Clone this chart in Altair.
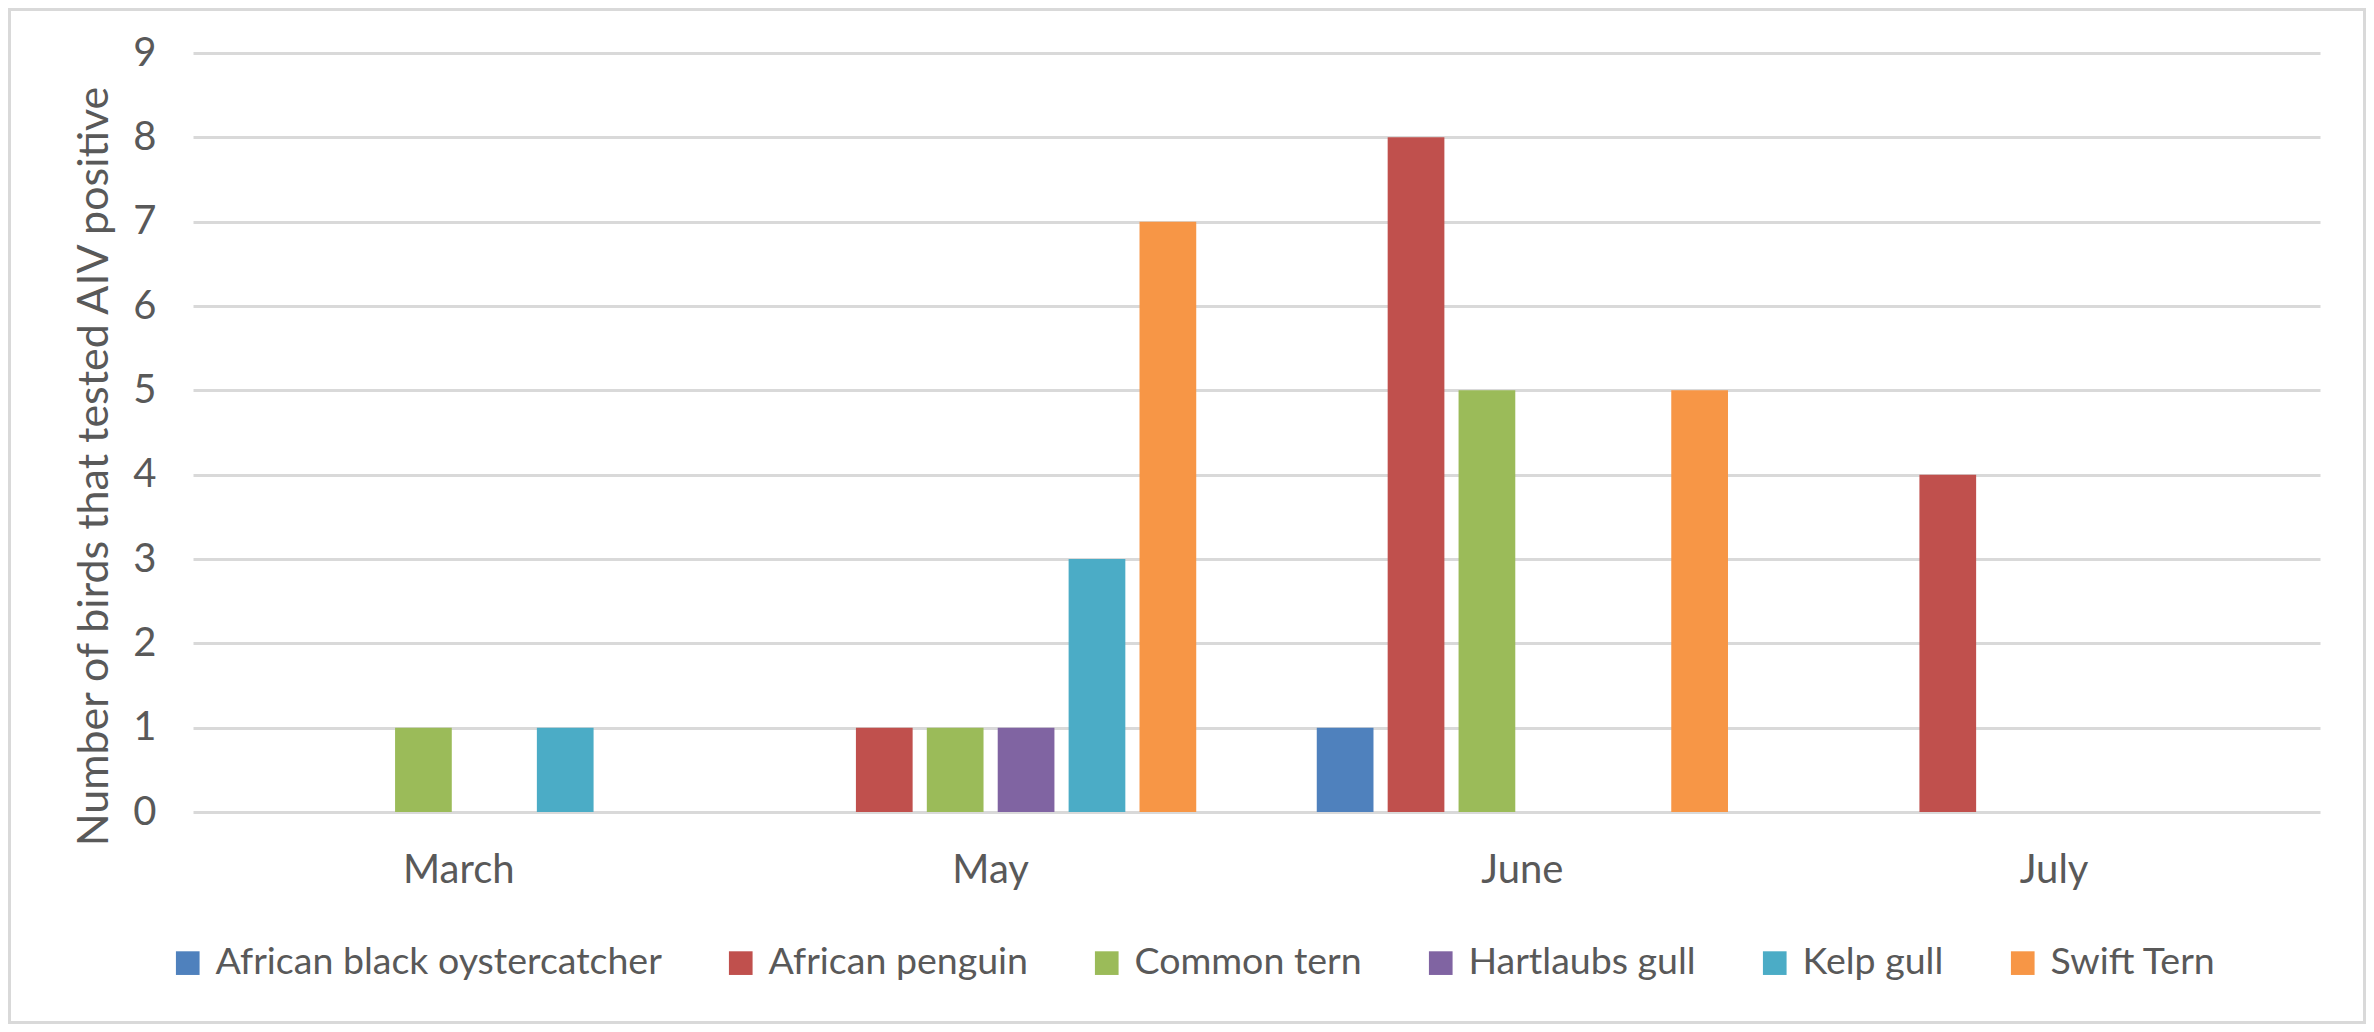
import altair as alt
import pandas as pd

# ---- data ----
months = ["March", "May", "June", "July"]
species = [
    "African black oystercatcher",
    "African penguin",
    "Common tern",
    "Hartlaubs gull",
    "Kelp gull",
    "Swift Tern",
]
oystercatcher = [0, 0, 1, 0]
penguin = [0, 1, 8, 4]
common_tern = [1, 1, 5, 0]
hartlaubs_gull = [0, 1, 0, 0]
kelp_gull = [1, 3, 0, 0]
swift_tern = [0, 7, 5, 0]
y_ticks = [0, 1, 2, 3, 4, 5, 6, 7, 8, 9]
colors = ["#4F81BD", "#C0504D", "#9BBB59", "#8064A2", "#4BACC6", "#F79646"]

series = [oystercatcher, penguin, common_tern, hartlaubs_gull, kelp_gull, swift_tern]
rows = []
for sp, vals in zip(species, series):
    for m, v in zip(months, vals):
        rows.append({"Month": m, "Species": sp, "Count": v})
df = pd.DataFrame(rows)

FONT = "Lato"
TXT = "#595959"
GRID = "#D9D9D9"

W, H = 2127, 759
PAD = {"left": 185, "top": 45, "right": 46, "bottom": 212}

bars = alt.Chart(df).mark_bar().encode(
    x=alt.X(
        "Month:N",
        sort=months,
        scale=alt.Scale(paddingInner=0.2, paddingOuter=0.1),
        axis=alt.Axis(
            title=None,
            labelAngle=0,
            labelFont=FONT,
            labelFontSize=40,
            labelColor=TXT,
            labelBaseline="alphabetic",
            labelPadding=70,
            ticks=False,
            tickSize=0,
            domain=False,
            grid=False,
        ),
    ),
    xOffset=alt.XOffset(
        "Species:N",
        sort=species,
        scale=alt.Scale(paddingInner=0.2, paddingOuter=0.1),
    ),
    y=alt.Y(
        "Count:Q",
        scale=alt.Scale(domain=[0, 9], nice=False),
        axis=alt.Axis(
            title="Number of birds that tested AIV positive",
            values=y_ticks,
            labelFont=FONT,
            labelFontSize=40,
            labelColor=TXT,
            labelPadding=37,
            ticks=False,
            tickSize=0,
            domain=False,
            grid=True,
            gridColor=GRID,
            gridWidth=3,
            titleFont=FONT,
            titleFontSize=43,
            titleFontWeight="normal",
            titleColor=TXT,
            titleX=-86,
            titleY=413,
            titleAlign="center",
            titleBaseline="alphabetic",
        ),
    ),
    color=alt.Color(
        "Species:N",
        sort=species,
        scale=alt.Scale(domain=species, range=colors),
        legend=alt.Legend(
            title=None,
            orient="none",
            direction="horizontal",
            legendX=-24,
            legendY=891,
            symbolType="square",
            symbolSize=560,
            symbolStrokeWidth=0,
            symbolOpacity=1,
            labelFont=FONT,
            labelFontSize=37.5,
            labelColor=TXT,
            labelOffset=9,
            labelLimit=1000,
            columnPadding=60,
        ),
    ),
)

frame = alt.Chart(alt.Data(values=[{}])).mark_rect(
    fillOpacity=0, stroke=GRID, strokeWidth=3
).encode(
    x=alt.value(-PAD["left"] + 1.5),
    x2=alt.value(W + PAD["right"] - 1.5),
    y=alt.value(-PAD["top"] + 1.5),
    y2=alt.value(H + PAD["bottom"] - 1.5),
)

chart = (
    alt.layer(bars, frame)
    .properties(
        width=W,
        height=H,
        autosize=alt.AutoSizeParams(type="none"),
        padding=PAD,
        background="white",
    )
    .configure_view(stroke=None)
)

chart.save("out.html", embed_options={"renderer": "svg", "actions": False})
